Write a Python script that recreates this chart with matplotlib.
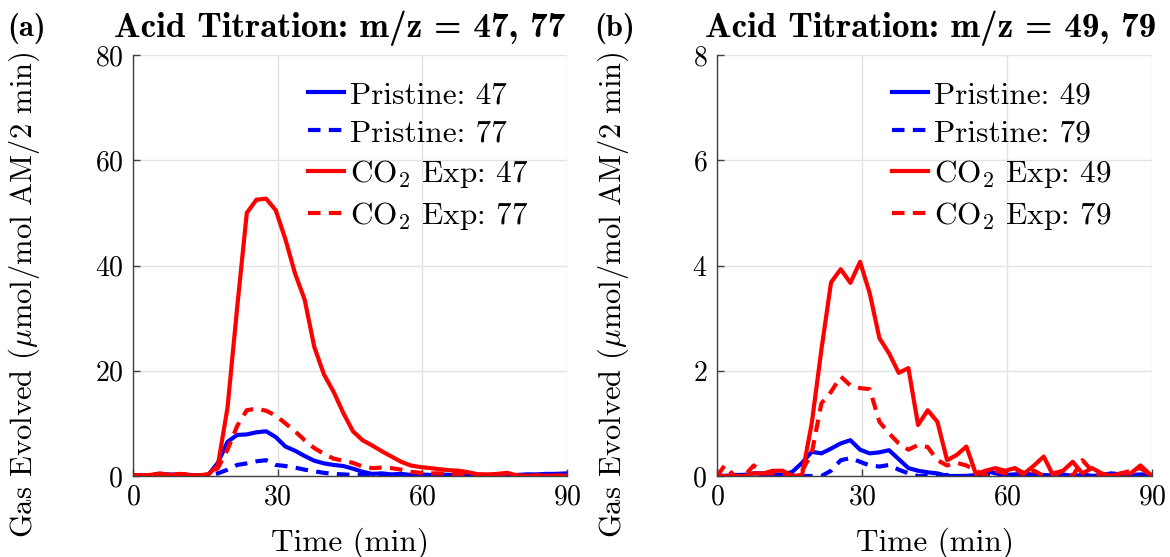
import matplotlib
matplotlib.use('Agg')
import matplotlib.pyplot as plt

plt.rcParams['font.family'] = 'cmr10'
plt.rcParams['mathtext.fontset'] = 'cm'
plt.rcParams['axes.formatter.use_mathtext'] = True
plt.rcParams['axes.unicode_minus'] = False

# time axis (min)
time_min = [0.0, 1.6, 3.6, 5.6, 7.6, 9.6, 11.6, 13.6, 15.6, 17.6,
            19.6, 21.6, 23.6, 25.6, 27.6, 29.6, 31.6, 33.6, 35.6, 37.6,
            39.6, 41.6, 43.6, 45.6, 47.6, 49.6, 51.6, 53.6, 55.6, 57.6,
            59.6, 61.6, 63.6, 65.6, 67.6, 69.6, 71.6, 73.6, 75.6, 77.6,
            79.6, 81.6, 83.6, 85.6, 87.6, 90.0]

# panel (a): m/z = 47, 77
a_pristine_47 = [0.0, 0.2, 0.1, 0.3, 0.3, 0.2, 0.2, 0.1, 0.2, 2.5,
                 6.5, 7.8, 7.9, 8.3, 8.5, 7.4, 5.6, 4.8, 3.8, 2.9,
                 2.4, 2.1, 1.9, 1.4, 0.8, 0.4, 0.5, 0.3, 0.4, 0.2,
                 0.3, 0.2, 0.3, 0.2, 0.1, 0.2, 0.1, 0.1, 0.2, 0.1,
                 0.2, 0.3, 0.3, 0.4, 0.4, 0.5]
a_pristine_77 = [0.0, 0.1, 0.1, 0.0, 0.1, 0.1, 0.0, 0.1, 0.0, 0.5,
                 1.2, 2.1, 2.4, 2.8, 3.0, 2.1, 1.9, 1.6, 1.2, 0.9,
                 0.6, 0.4, 0.3, 0.2, 0.2, 0.1, 0.2, 0.1, 0.1, 0.2,
                 0.1, 0.0, 0.1, 0.1, 0.0, 0.1, 0.0, 0.1, 0.0, 0.1,
                 0.1, 0.0, 0.1, 0.2, 0.1, 0.1]
a_co2_47 = [0.0, 0.1, 0.2, 0.5, 0.2, 0.3, 0.2, 0.1, 0.3, 2.0,
            13.0, 32.0, 50.0, 52.5, 52.7, 50.5, 45.0, 38.5, 33.5, 24.5,
            19.3, 16.0, 12.0, 8.5, 6.8, 5.8, 4.7, 3.7, 2.7, 2.0,
            1.7, 1.5, 1.3, 1.1, 1.0, 0.7, 0.3, 0.3, 0.4, 0.6,
            0.1, 0.0, 0.1, 0.0, 0.1, 0.0]
a_co2_77 = [0.2, 0.1, 0.3, 0.3, 0.2, 0.4, 0.3, 0.1, 0.3, 1.5,
            5.0, 9.5, 12.5, 12.8, 12.4, 11.5, 10.0, 8.5, 6.8, 5.3,
            4.2, 3.3, 2.9, 2.5, 1.8, 1.5, 1.6, 1.5, 1.2, 0.8,
            0.6, 0.5, 0.5, 0.4, 0.4, 0.3, 0.3, 0.2, 0.2, 0.3,
            0.1, 0.0, 0.1, 0.0, 0.1, 0.0]

# panel (b): m/z = 49, 79
b_pristine_49 = [0.0, 0.0, 0.02, 0.02, 0.05, 0.05, 0.03, 0.02, 0.08, 0.25,
                 0.46, 0.43, 0.52, 0.62, 0.68, 0.5, 0.43, 0.45, 0.49, 0.32,
                 0.15, 0.1, 0.07, 0.05, 0.0, 0.0, 0.0, 0.02, 0.1, 0.05,
                 0.02, 0.03, 0.05, 0.02, 0.0, 0.02, 0.03, 0.0, 0.02, 0.0,
                 0.02, 0.05, 0.03, 0.02, 0.03, 0.02]
b_pristine_79 = [0.02, 0.0, 0.0, 0.02, 0.0, 0.0, 0.02, 0.0, 0.0, 0.0,
                 0.0, 0.0, 0.1, 0.3, 0.34, 0.27, 0.2, 0.18, 0.21, 0.12,
                 0.05, 0.0, 0.0, 0.0, 0.02, 0.0, 0.0, 0.0, 0.02, 0.0,
                 0.0, 0.02, 0.0, 0.0, 0.02, 0.0, 0.0, 0.0, 0.02, 0.0,
                 0.0, 0.0, 0.02, 0.0, 0.0, 0.0]
b_co2_49 = [0.0, 0.0, 0.0, 0.0, 0.05, 0.05, 0.1, 0.1, 0.0, 0.02,
            1.0, 2.4, 3.68, 3.93, 3.67, 4.07, 3.47, 2.62, 2.33, 1.96,
            2.05, 0.97, 1.25, 1.03, 0.3, 0.4, 0.56, 0.03, 0.1, 0.15,
            0.1, 0.15, 0.05, 0.2, 0.37, 0.0, 0.1, 0.27, 0.05, 0.15,
            0.05, 0.0, 0.05, 0.05, 0.2, 0.0]
b_co2_79 = [0.0, 0.2, 0.0, 0.0, 0.2, 0.05, 0.05, 0.05, 0.0, 0.1,
            0.43, 1.38, 1.6, 1.89, 1.72, 1.67, 1.65, 1.03, 0.81, 0.62,
            0.5, 0.59, 0.55, 0.3, 0.2, 0.25, 0.2, 0.1, 0.0, 0.1,
            0.05, 0.15, 0.0, 0.1, 0.0, 0.05, 0.1, 0.0, 0.3, 0.1,
            0.0, 0.0, 0.05, 0.1, 0.15, 0.0]

x_ticks = [0, 30, 60, 90]
a_y_ticks = [0, 20, 40, 60, 80]
b_y_ticks = [0, 2, 4, 6, 8]

BLUE = '#0000ff'
RED = '#ff0000'
LW = 3.0
DASH = (0, (3.0, 2.0))

W, H = 1170, 557
fig = plt.figure(figsize=(W / 100, H / 100), dpi=100)
ax1 = fig.add_axes([133 / W, (H - 476) / H, 434 / W, 421 / H])
ax2 = fig.add_axes([717 / W, (H - 476) / H, 435 / W, 421 / H])

panels = [
    (ax1, a_pristine_47, a_pristine_77, a_co2_47, a_co2_77, ('47', '77'), a_y_ticks,
     'Acid Titration: m/z = 47, 77', '(a)', 26.5, -0.21, 0.477),
    (ax2, b_pristine_49, b_pristine_79, b_co2_49, b_co2_79, ('49', '79'), b_y_ticks,
     'Acid Titration: m/z = 49, 79', '(b)', 615, -0.198, 0.49),
]

for ax, p1, p2, c1, c2, mz, yt, title, tag, tag_x, ylab_x, title_x in panels:
    ax.plot(time_min, p1, color=BLUE, lw=LW, label='Pristine: ' + mz[0])
    ax.plot(time_min, p2, color=BLUE, lw=LW, ls=DASH, label='Pristine: ' + mz[1])
    ax.plot(time_min, c1, color=RED, lw=LW, label='CO$_2$ Exp: ' + mz[0])
    ax.plot(time_min, c2, color=RED, lw=LW, ls=DASH, label='CO$_2$ Exp: ' + mz[1])
    ax.set_xlim(x_ticks[0], x_ticks[-1])
    ax.set_ylim(yt[0], yt[-1])
    ax.set_xticks(x_ticks)
    ax.set_yticks(yt)
    ax.grid(True, color='#e3e3e3', lw=1.0)
    ax.set_axisbelow(True)
    for s in ('top', 'right'):
        ax.spines[s].set_visible(False)
    for s in ('left', 'bottom'):
        ax.spines[s].set_color('#404040')
        ax.spines[s].set_linewidth(1.0)
    ax.tick_params(direction='in', length=5, width=1, colors='#404040',
                   labelsize=20, labelcolor='black')
    ax.tick_params(axis='x', pad=6)
    ax.tick_params(axis='y', pad=7)
    ax.set_xlabel('Time (min)', fontsize=22.5, labelpad=12)
    ax.set_ylabel('Gas Evolved ($\\mu$mol/mol AM/2 min)', fontsize=22)
    ax.yaxis.set_label_coords(ylab_x, 0.43)
    ax.text(title_x, 1.0428, title, transform=ax.transAxes, fontsize=25.4,
            fontfamily='cmb10', ha='center', va='baseline')
    ax.legend(loc='upper left', bbox_to_anchor=(0.403, 0.938), frameon=False,
              fontsize=22.5, handlelength=1.15, handletextpad=0.2,
              labelspacing=0.33, borderaxespad=0.0, borderpad=0.0)
    fig.text(tag_x / W, 1 - 28 / H, tag, fontsize=22, fontfamily='cmb10',
             ha='center', va='center')

fig.savefig('out.png', dpi=100)
